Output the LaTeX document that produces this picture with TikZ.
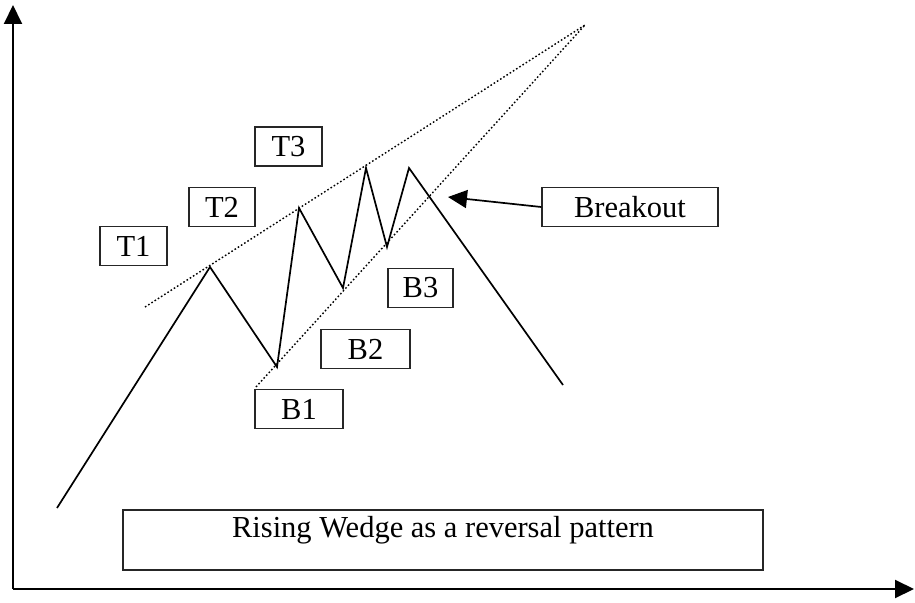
\documentclass[tikz,border=0pt]{standalone}
\usepackage{fontspec}
\setmainfont{Liberation Serif}
\usetikzlibrary{arrows.meta,positioning}

\begin{document}
\begin{tikzpicture}[x=1pt,y=-1pt,thick]
\fontsize{30.5}{36}\selectfont
\tikzstyle{main}=[draw=black!85, line width=1.4pt, minimum height=39pt, inner sep=0pt]
\tikzstyle{trend}=[line width=1.4pt, dash pattern=on 1.6pt off 2.2pt]
\tikzstyle{tip}=[-{Triangle[length=19pt,width=18pt]}]
\useasboundingbox (0,0) rectangle (915,602);
% axes
\coordinate (o) at (13,589);
\coordinate (ytop) at (13,5);
\coordinate (xend) at (914,589);
\draw[line width=2pt, tip] (o) -- (ytop);
\draw[line width=2pt, tip] (o) -- (xend);
% price line
\foreach \i/\x/\y in {0/57/508,1/210/267,2/277/367,3/299/208,4/343/288,5/366/168,6/387/247,7/409/168,8/563/385}
    \coordinate (p\i) at (\x,\y);
\draw[line width=1.7pt, line join=miter] (p0) -- (p1) -- (p2) -- (p3) -- (p4) -- (p5) -- (p6) -- (p7) -- (p8);
% wedge lines
\coordinate (apex) at (585,25);
\coordinate (u0) at (145,307);
\coordinate (l0) at (256,387);
\draw[trend] (u0) -- (apex);
\draw[trend] (l0) -- (apex);
% labels
\foreach \name/\x/\y/\w in {T1/133.5/246/67,T2/222/207/66,T3/288.5/146.5/67,B1/299/409/88,B2/365.5/349/89,B3/420.5/288/65}
    \node[main, minimum width=\w pt] (\name) at (\x,\y) {\name};
\node[main, minimum width=176pt] (brk) at (630,207) {Breakout};
\coordinate (bk) at (448,197);
\draw[line width=1.7pt, tip] (brk.west) -- (bk);
\node[main, minimum width=640pt, minimum height=60pt, text height=20pt, text depth=26pt] (cap) at (443,540) {Rising Wedge as a reversal pattern};
\end{tikzpicture}
\end{document}
